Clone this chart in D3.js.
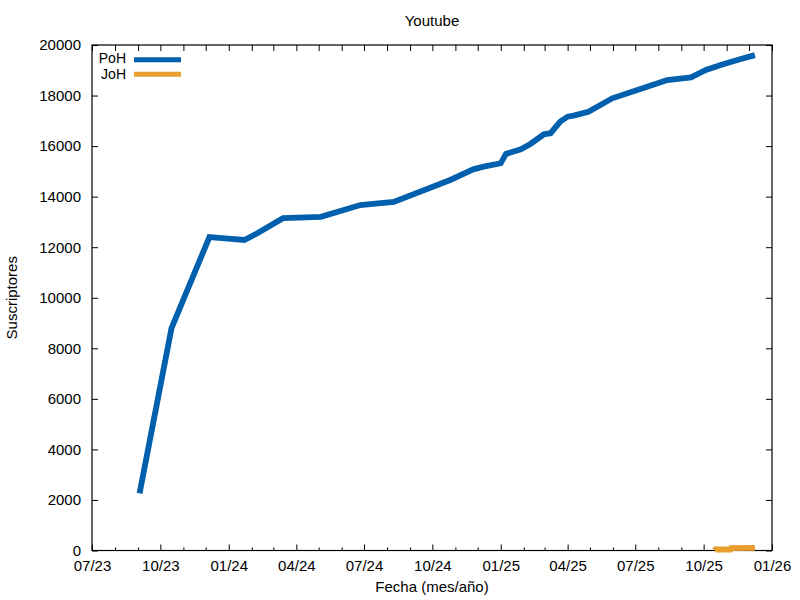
<!DOCTYPE html>
<html>
<head>
<meta charset="utf-8">
<script src="https://cdn.jsdelivr.net/npm/d3@7"></script>
<style>
body { margin: 0; background: #fff; }
svg { display: block; }
text { font-family: "Liberation Sans", Arial, sans-serif; fill: #000; }
</style>
</head>
<body>
<svg id="chart" width="800" height="600"></svg>
<script>
// ---- Data ----
const pohDates = ["2023-09-03","2023-10-16","2023-12-06","2023-12-31","2024-01-22","2024-02-09","2024-03-14","2024-05-04","2024-06-26","2024-08-10","2024-10-25","2024-11-25","2024-12-09","2025-01-01","2025-01-08","2025-01-28","2025-02-10","2025-02-28","2025-03-09","2025-03-22","2025-04-01","2025-04-09","2025-04-29","2025-05-31","2025-07-17","2025-08-13","2025-09-14","2025-10-04","2025-10-24","2025-11-20","2025-12-09"];
const pohValues = [2260,8800,12400,12340,12285,12560,13150,13200,13670,13790,14660,15080,15185,15320,15690,15875,16085,16465,16510,16965,17165,17205,17360,17890,18350,18615,18720,19010,19210,19445,19600];
const johDates = ["2025-10-16","2025-10-17","2025-11-06","2025-11-07","2025-12-09"];
const johValues = [0,40,40,90,100];
const seriesNames = ["PoH","JoH"];
const seriesColors = ["#0060ad","#e89f2f"];
const xTickLabels = ["07/23","10/23","01/24","04/24","07/24","10/24","01/25","04/25","07/25","10/25","01/26"];
const yTicks = [0,2000,4000,6000,8000,10000,12000,14000,16000,18000,20000];
const title = "Youtube";
const xLabel = "Fecha (mes/año)";
const yLabel = "Suscriptores";

// ---- Layout ----
const L = 92, R = 772, T = 45, B = 550.5;
const parse = d3.timeParse("%Y-%m-%d");
const parseTick = d3.timeParse("%m/%y");
const fmt = d3.timeFormat("%m/%y");

const svg = d3.select("#chart");
const x = d3.scaleTime().domain([parse("2023-07-01"), parse("2026-01-01")]).range([L, R]);
const y = d3.scaleLinear().domain([0, 20000]).range([B, T]);

const majorTicks = xTickLabels.map(s => parseTick(s));
const monthTicks = d3.timeMonth.range(parse("2023-07-01"), parse("2026-01-02"));
const minorTicks = monthTicks.filter(d => d.getMonth() % 3 !== 0);

const fontSize = "15px";

// bottom axis major
const gB = svg.append("g").attr("transform", `translate(0,${B})`)
  .call(d3.axisBottom(x).tickValues(majorTicks).tickFormat(fmt).tickSizeInner(-6).tickSizeOuter(0).tickPadding(10));
gB.select(".domain").remove();
gB.selectAll("text").style("font-size", fontSize).attr("font-family", null);
// bottom axis minor
const gBm = svg.append("g").attr("transform", `translate(0,${B})`)
  .call(d3.axisBottom(x).tickValues(minorTicks).tickFormat("").tickSizeInner(-3).tickSizeOuter(0));
gBm.select(".domain").remove();
// top axis (monthly)
const gT = svg.append("g").attr("transform", `translate(0,${T})`)
  .call(d3.axisTop(x).tickValues(monthTicks).tickFormat("").tickSizeInner(-6).tickSizeOuter(0));
gT.select(".domain").remove();
// left axis
const gL = svg.append("g").attr("transform", `translate(${L},0)`)
  .call(d3.axisLeft(y).tickValues(yTicks).tickFormat(d3.format("d")).tickSizeInner(-6).tickSizeOuter(0).tickPadding(11));
gL.select(".domain").remove();
gL.selectAll("text").style("font-size", fontSize).attr("font-family", null);
// right axis
const gR = svg.append("g").attr("transform", `translate(${R},0)`)
  .call(d3.axisRight(y).tickValues(yTicks).tickFormat("").tickSizeInner(-6).tickSizeOuter(0));
gR.select(".domain").remove();
svg.selectAll(".tick line").attr("stroke", "#000").attr("stroke-width", 1);

// frame
svg.append("rect").attr("x", L).attr("y", T).attr("width", R - L).attr("height", B - T)
  .attr("fill", "none").attr("stroke", "#000").attr("stroke-width", 1.2);

// lines
const line = d3.line().x(d => x(d.date)).y(d => y(d.value));
const poh = pohDates.map((d, i) => ({date: parse(d), value: pohValues[i]}));
const joh = johDates.map((d, i) => ({date: parse(d), value: johValues[i]}));
[poh, joh].forEach((data, i) => {
  svg.append("path").datum(data).attr("d", line)
    .attr("fill", "none").attr("stroke", seriesColors[i]).attr("stroke-width", 5.8)
    .attr("stroke-linejoin", "miter").attr("stroke-linecap", "butt");
});

// legend
seriesNames.forEach((name, i) => {
  const cy = 59.7 + i * 14.5;
  const ty = 58.5 + i * 16;
  svg.append("text").attr("x", 126).attr("y", ty).attr("dy", "0.35em")
    .attr("text-anchor", "end").style("font-size", "14px").text(name);
  svg.append("line").attr("x1", 134).attr("x2", 181).attr("y1", cy).attr("y2", cy)
    .attr("stroke", seriesColors[i]).attr("stroke-width", 5);
});

// titles
svg.append("text").attr("x", (L + R) / 2).attr("y", 26).attr("text-anchor", "middle")
  .style("font-size", fontSize).text(title);
svg.append("text").attr("x", (L + R) / 2).attr("y", 592).attr("text-anchor", "middle")
  .style("font-size", fontSize).text(xLabel);
svg.append("text").attr("transform", `translate(17,${(T + B) / 2}) rotate(-90)`)
  .attr("text-anchor", "middle").style("font-size", fontSize).text(yLabel);
</script>
</body>
</html>
